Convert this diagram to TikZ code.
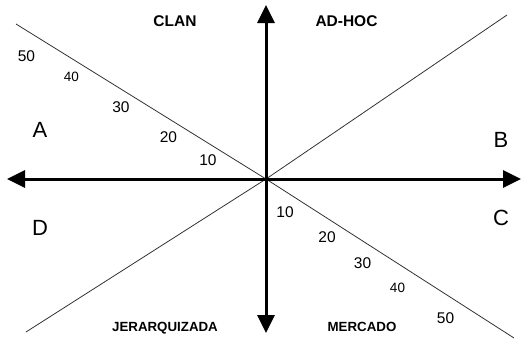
\documentclass[tikz,border=0pt]{standalone}
\usepackage{fontspec}
\setmainfont{Liberation Sans}
\usetikzlibrary{arrows.meta}
\tikzset{
  axisline/.style={line width=3pt, -{Triangle[length=18pt,width=17pt]}},
  diagline/.style={line width=0.8pt, draw=black!80},
  lbl/.style={inner sep=0pt, text depth=0pt, anchor=center},
  quad/.style={lbl, font=\fontsize{22}{22}\selectfont},
  bigbold/.style={lbl, font=\fontsize{15.5}{15.5}\selectfont\bfseries},
  smallbold/.style={lbl, font=\fontsize{13.3}{13.3}\selectfont\bfseries},
  num/.style={lbl, font=\fontsize{15.5}{15.5}\selectfont},
  numsm/.style={lbl, font=\fontsize{13.5}{13.5}\selectfont},
}
\begin{document}
\begin{tikzpicture}[x=1pt,y=-1pt]
\useasboundingbox (0,0) rectangle (522,341);
% coordinates
\coordinate (O) at (266,179);
\coordinate (L) at (7,179);
\coordinate (R) at (521,179);
\coordinate (T) at (266,5);
\coordinate (Bt) at (266,333);
\coordinate (d1a) at (16,24);
\coordinate (d1b) at (514,338);
\coordinate (d2a) at (507,15);
\coordinate (d2b) at (26,332);
% diagonals
\draw[diagline] (d1a) -- (O) -- (d1b);
\draw[diagline] (d2a) -- (O) -- (d2b);
% axes
\draw[axisline] (O) -- (L);
\draw[axisline] (O) -- (R);
\draw[axisline] (O) -- (T);
\draw[axisline] (O) -- (Bt);
% quadrant titles
\node[bigbold] (clan) at (175,21) {CLAN};
\node[bigbold] (adhoc) at (346.5,21) {AD-HOC};
\node[smallbold] (jer) at (165,327) {JERARQUIZADA};
\node[smallbold] (merc) at (362,327) {MERCADO};
% letters
\node[quad] (A) at (40,130) {A};
\node[quad] (B) at (501,140) {B};
\node[quad] (C) at (501,218) {C};
\node[quad] (D) at (40,228) {D};
% numbers upper left
\node[num] (u50) at (26.5,56) {50};
\node[numsm] (u40) at (71.5,77) {40};
\node[num] (u30) at (121,107.5) {30};
\node[num] (u20) at (168.5,137) {20};
\node[num] (u10) at (208,160.5) {10};
% numbers lower right
\node[num] (l10) at (285,212.5) {10};
\node[num] (l20) at (327,237) {20};
\node[num] (l30) at (362.5,263) {30};
\node[numsm] (l40) at (397.5,288) {40};
\node[num] (l50) at (445.5,318) {50};
\end{tikzpicture}
\end{document}
